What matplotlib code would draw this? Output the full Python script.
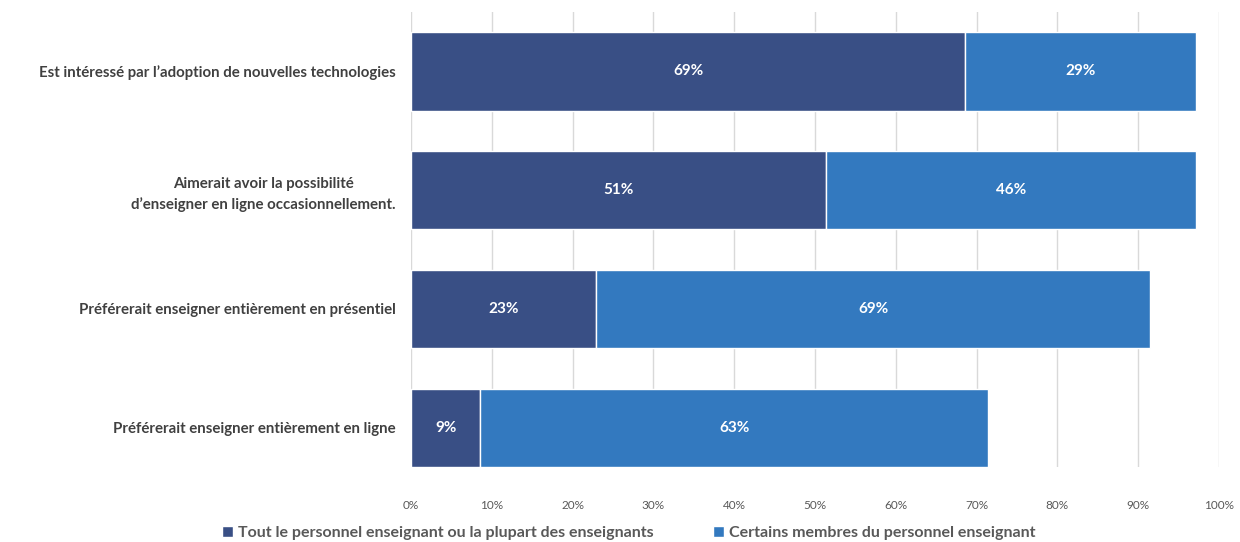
import matplotlib.pyplot as plt
from matplotlib.ticker import PercentFormatter

plt.rcParams['font.family'] = ['Lato', 'DejaVu Sans']

categories = [
    "Est intéressé par l’adoption de nouvelles technologies",
    "Aimerait avoir la possibilité\nd’enseigner en ligne occasionnellement.",
    "Préférerait enseigner entièrement en présentiel",
    "Préférerait enseigner entièrement en ligne",
]
tous = [68.6, 51.4, 22.9, 8.6]
certains = [28.6, 45.7, 68.6, 62.8]
series_names = [
    "Tout le personnel enseignant ou la plupart des enseignants",
    "Certains membres du personnel enseignant",
]
colors = ["#394F85", "#3379BF"]

fig = plt.figure(figsize=(12.4, 5.42), dpi=100)
ax = fig.add_axes([411 / 1240, 1 - 467 / 542, 808 / 1240, 455 / 542])

y = list(range(len(categories)))
h = 0.66
b1 = ax.barh(y, tous, height=h, color=colors[0], edgecolor="white", linewidth=1,
             label=series_names[0], zorder=3)
b2 = ax.barh(y, certains, left=tous, height=h, color=colors[1], edgecolor="white",
             linewidth=1, label=series_names[1], zorder=3)

# value labels centred in each segment
for vals, starts in [(tous, [0] * 4), (certains, tous)]:
    for v, s, yy in zip(vals, starts, y):
        ax.text(s + v / 2, yy, f"{v:.0f}%", ha="center", va="center",
                color="white", fontsize=11, fontweight="bold", zorder=4)

ax.set_xlim(0, 100)
ax.set_ylim(3 + h / 2, -0.5)
ax.set_xticks(range(0, 101, 10))
ax.xaxis.set_major_formatter(PercentFormatter(decimals=0))
ax.set_yticks(y)
ax.set_yticklabels(categories, fontsize=10.8, fontweight="bold", color="#404040",
                   multialignment="center", linespacing=1.5)
ax.tick_params(axis="y", length=0, pad=11)
ax.tick_params(axis="x", length=0, pad=24, labelsize=8.5, labelcolor="#595959")
ax.grid(axis="x", color="#D9D9D9", linewidth=1, zorder=0)
for sp in ax.spines.values():
    sp.set_visible(False)

fig.legend(handles=[b1, b2], loc="center", bbox_to_anchor=(0.507, 1 - 533 / 542),
           ncol=2, frameon=False, handlelength=0.7, handleheight=0.7,
           handletextpad=0.3, columnspacing=3.7,
           prop={"weight": "bold", "size": 11.5})
for t in fig.legends[0].get_texts():
    t.set_color("#595959")

fig.savefig("out.png", dpi=100)
